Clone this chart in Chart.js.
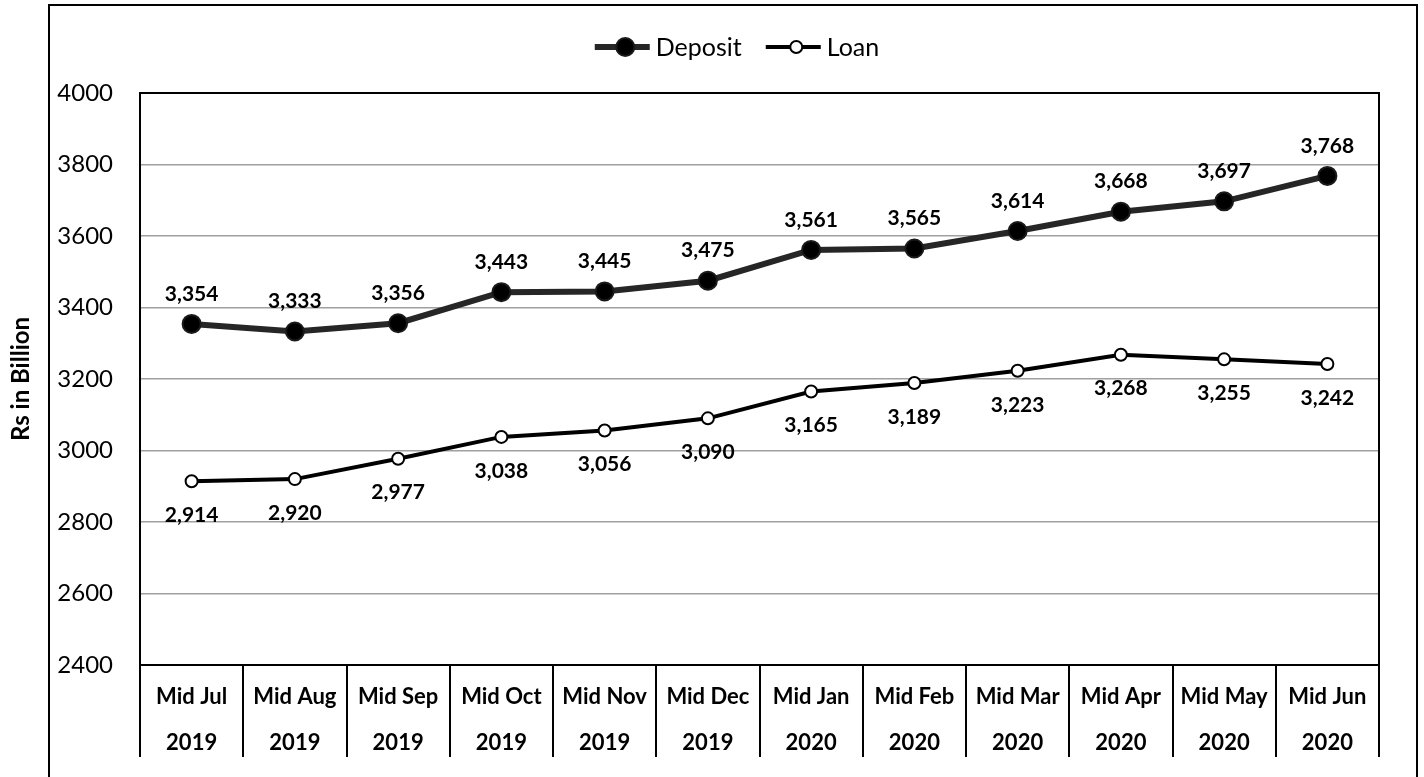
<!DOCTYPE html>
<html>
<head>
<meta charset="utf-8">
<script src="https://cdn.jsdelivr.net/npm/chart.js@4"></script>
<style>
  html, body { margin: 0; padding: 0; background: #ffffff; }
  canvas { display: block; }
</style>
</head>
<body>
<canvas id="depositLoanChart" width="1424" height="777"></canvas>
<script>
// ================================
// DATA
// ================================
const months = ["Mid Jul", "Mid Aug", "Mid Sep", "Mid Oct", "Mid Nov", "Mid Dec",
                "Mid Jan", "Mid Feb", "Mid Mar", "Mid Apr", "Mid May", "Mid Jun"];
const years = ["2019", "2019", "2019", "2019", "2019", "2019",
               "2020", "2020", "2020", "2020", "2020", "2020"];
const deposit = [3354, 3333, 3356, 3443, 3445, 3475, 3561, 3565, 3614, 3668, 3697, 3768];
const loan = [2914, 2920, 2977, 3038, 3056, 3090, 3165, 3189, 3223, 3268, 3255, 3242];
const yTicks = [2400, 2600, 2800, 3000, 3200, 3400, 3600, 3800, 4000];

const FONT = "Lato";

// ================================
// PLUGINS
// ================================
const frame = {
  id: "frame",
  beforeDraw(chart) {
    const ctx = chart.ctx;
    ctx.save();
    ctx.strokeStyle = "#000";
    ctx.lineWidth = 2;
    ctx.strokeRect(49, 5, 1368, 900);
    ctx.restore();
  },
  afterDraw(chart) {
    const { ctx, chartArea: a } = chart;
    ctx.save();
    ctx.strokeStyle = "#000";
    ctx.lineWidth = 2;
    ctx.strokeRect(a.left, a.top, a.right - a.left, a.bottom - a.top);
    ctx.restore();
  }
};

const valueLabels = {
  id: "valueLabels",
  afterDatasetsDraw(chart) {
    const ctx = chart.ctx;
    ctx.save();
    ctx.font = "bold 21px " + FONT;
    ctx.fillStyle = "#000";
    ctx.textAlign = "center";
    ctx.textBaseline = "middle";
    chart.data.datasets.forEach((ds, i) => {
      const meta = chart.getDatasetMeta(i);
      const shift = i === 0 ? -30 : 34;
      meta.data.forEach((pt, j) => {
        ctx.fillText(ds.data[j].toLocaleString("en-US"), pt.x, pt.y + shift);
      });
    });
    ctx.restore();
  }
};

const lineLegend = {
  id: "lineLegend",
  afterDraw(chart) {
    const ctx = chart.ctx;
    const y = 47, lineLen = 55, gap = 6, itemGap = 24;
    ctx.save();
    ctx.font = "25px " + FONT;
    ctx.textBaseline = "middle";
    const items = chart.data.datasets;
    const widths = items.map(ds => lineLen + gap + ctx.measureText(ds.label).width);
    const total = widths.reduce((s, w) => s + w, 0) + itemGap * (items.length - 1);
    let x = 737 - total / 2;
    items.forEach((ds, i) => {
      ctx.strokeStyle = ds.borderColor;
      ctx.lineWidth = ds.borderWidth;
      ctx.beginPath();
      ctx.moveTo(x, y);
      ctx.lineTo(x + lineLen, y);
      ctx.stroke();
      ctx.beginPath();
      ctx.arc(x + lineLen / 2 + 3, y, ds.pointRadius, 0, Math.PI * 2);
      ctx.fillStyle = ds.pointBackgroundColor;
      ctx.fill();
      ctx.lineWidth = ds.pointBorderWidth;
      ctx.strokeStyle = ds.pointBorderColor;
      ctx.stroke();
      ctx.fillStyle = "#000";
      ctx.fillText(ds.label, x + lineLen + gap, y + 1);
      x += widths[i] + itemGap;
    });
    ctx.restore();
  }
};

// ================================
// DEPOSIT & LOAN (LINE)
// ================================
const canvas = document.getElementById("depositLoanChart");

new Chart(canvas, {
  type: "line",
  data: {
    labels: months.map((m, i) => [m, years[i]]),
    datasets: [
      {
        label: "Deposit",
        data: deposit,
        borderColor: "#262626",
        borderWidth: 6,
        pointRadius: 9,
        pointBackgroundColor: "#000000",
        pointBorderColor: "#1a1a1a",
        pointBorderWidth: 2,
        tension: 0
      },
      {
        label: "Loan",
        data: loan,
        borderColor: "#000000",
        borderWidth: 4,
        pointRadius: 6,
        pointBackgroundColor: "#ffffff",
        pointBorderColor: "#000000",
        pointBorderWidth: 2,
        tension: 0
      }
    ]
  },
  options: {
    responsive: false,
    animation: false,
    devicePixelRatio: 1,
    layout: { padding: { top: 93, right: 45, bottom: 0, left: 0 } },
    plugins: {
      legend: { display: false },
      tooltip: { enabled: false }
    },
    scales: {
      x: {
        offset: true,
        afterFit: s => { s.height = 112; },
        grid: {
          offset: true,
          drawOnChartArea: false,
          drawTicks: true,
          tickLength: 92,
          color: "#000",
          lineWidth: 2
        },
        border: { display: true, color: "#000", width: 2 },
        ticks: {
          autoSkip: false,
          maxRotation: 0,
          minRotation: 0,
          padding: -83,
          color: "#000",
          font: { family: FONT, size: 22, weight: "bold", lineHeight: 46 / 22 }
        }
      },
      y: {
        min: yTicks[0],
        max: yTicks[yTicks.length - 1],
        afterFit: s => { s.width = 140; },
        afterBuildTicks: s => { s.ticks = yTicks.map(v => ({ value: v })); },
        grid: { color: "#a0a0a0", lineWidth: 1.5, drawTicks: false },
        border: { display: true, color: "#000", width: 2 },
        ticks: {
          padding: 27,
          color: "#000",
          font: { family: FONT, size: 24 },
          callback: v => String(v)
        },
        title: {
          display: true,
          text: "Rs in Billion",
          color: "#000",
          padding: { top: 7, bottom: 0 },
          font: { family: FONT, size: 24, weight: "bold" }
        }
      }
    }
  },
  plugins: [frame, valueLabels, lineLegend]
});
</script>
</body>
</html>
